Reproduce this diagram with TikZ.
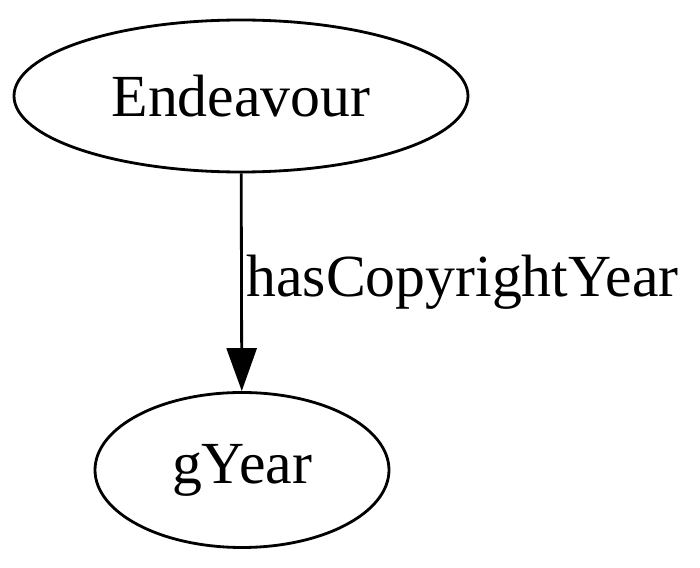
\documentclass[tikz,border=0pt]{standalone}
\usepackage{fontspec}
\setmainfont{Liberation Serif}
\usetikzlibrary{arrows.meta, shapes.geometric}

\begin{document}
\begin{tikzpicture}[
    ent/.style={ellipse, draw, line width=0.8pt, inner sep=0pt,
                font=\fontsize{17}{20}\selectfont},
    rel/.style={-{Triangle[length=4.3mm, width=3mm]}, line width=0.8pt},
    lbl/.style={right, inner sep=1pt, font=\fontsize{17}{20}\selectfont}
  ]
    \useasboundingbox (0,0) rectangle (7,5.68);
    \node[ent, minimum width=4.54cm, minimum height=1.52cm] (end) at (2.41,4.72) {Endeavour};
    \node[ent, minimum width=2.94cm, minimum height=1.55cm] (gy) at (2.42,0.98) {gYear};

    \draw[rel] (end) -- node[lbl] {hasCopyrightYear} (gy);
  \end{tikzpicture}
\end{document}
